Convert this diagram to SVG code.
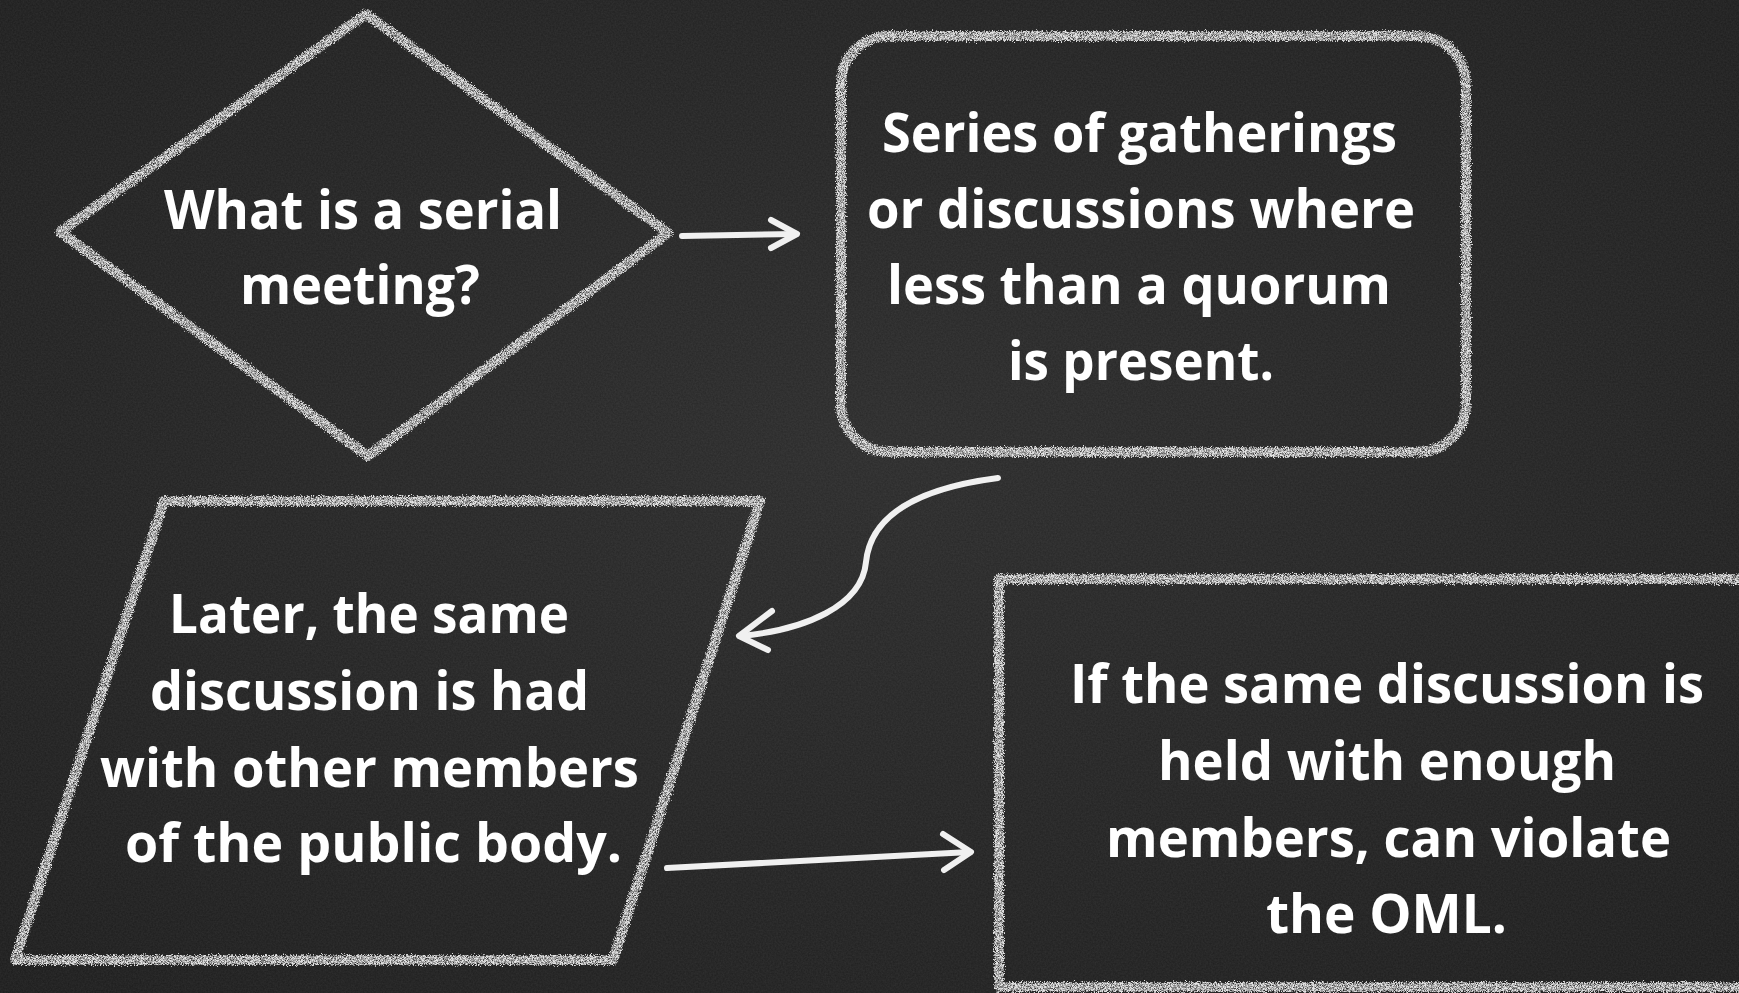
<svg xmlns="http://www.w3.org/2000/svg" width="1739" height="993" viewBox="0 0 1739 993">
<defs>
<radialGradient id="bg" cx="50%" cy="45%" r="75%">
<stop offset="0" stop-color="#2a2a2a"/>
<stop offset="1" stop-color="#1b1b1b"/>
</radialGradient>
<filter id="grain" x="0" y="0" width="100%" height="100%">
<feTurbulence type="fractalNoise" baseFrequency="0.6" numOctaves="2" seed="3" result="n"/>
<feColorMatrix in="n" type="matrix" values="0 0 0 0 1  0 0 0 0 1  0 0 0 0 1  0 0 0 0.08 0"/>
</filter>
<filter id="chalk" x="-5%" y="-5%" width="110%" height="110%">
<feTurbulence type="fractalNoise" baseFrequency="0.9" numOctaves="2" seed="7" result="n"/>
<feDisplacementMap in="SourceGraphic" in2="n" scale="7" xChannelSelector="R" yChannelSelector="G" result="d"/>
<feTurbulence type="fractalNoise" baseFrequency="1.4" numOctaves="1" seed="11" result="n2"/>
<feColorMatrix in="n2" type="matrix" values="0 0 0 0 0  0 0 0 0 0  0 0 0 0 0  0 0 0 -2.6 2.0" result="m"/>
<feComposite in="d" in2="m" operator="in"/>
</filter>
<style>
.chalk{fill:none;stroke:#e4e4e4;stroke-width:10;stroke-linejoin:round;filter:url(#chalk)}
.conn{fill:none;stroke:#f0f0f0;stroke-width:6;stroke-linecap:round;stroke-linejoin:round}
.t{font-family:"Open Sans","Liberation Sans",sans-serif;font-weight:700;font-size:54px;fill:#ffffff}
</style>
</defs>
<rect width="1739" height="993" fill="url(#bg)"/>
<rect width="1739" height="993" filter="url(#grain)"/>

<g id="node-question">
<polygon class="chalk" points="366,14 668,233 368,456 60,232"/>
<text class="t" x="164" y="229" textLength="398" lengthAdjust="spacingAndGlyphs">What is a serial</text>
<text class="t" x="240" y="304" textLength="240" lengthAdjust="spacingAndGlyphs">meeting?</text>
</g>

<g id="node-definition">
<rect class="chalk" x="841" y="36" width="625" height="416" rx="48" ry="48"/>
<text class="t" x="882" y="152" textLength="515" lengthAdjust="spacingAndGlyphs">Series of gatherings</text>
<text class="t" x="867" y="228" textLength="548" lengthAdjust="spacingAndGlyphs">or discussions where</text>
<text class="t" x="887" y="304" textLength="504" lengthAdjust="spacingAndGlyphs">less than a quorum</text>
<text class="t" x="1008" y="380" textLength="266" lengthAdjust="spacingAndGlyphs">is present.</text>
</g>

<g id="node-later">
<polygon class="chalk" points="164,501 760,501 613,960 15,960"/>
<text class="t" x="169" y="633" textLength="400" lengthAdjust="spacingAndGlyphs">Later, the same</text>
<text class="t" x="150" y="710" textLength="439" lengthAdjust="spacingAndGlyphs">discussion is had</text>
<text class="t" x="100" y="787" textLength="539" lengthAdjust="spacingAndGlyphs">with other members</text>
<text class="t" x="125" y="862" textLength="497" lengthAdjust="spacingAndGlyphs">of the public body.</text>
</g>

<g id="node-violation">
<path class="chalk" d="M1745 579 L999 579 L999 987 L1745 987"/>
<text class="t" x="1070" y="703" textLength="634" lengthAdjust="spacingAndGlyphs">If the same discussion is</text>
<text class="t" x="1158" y="780" textLength="458" lengthAdjust="spacingAndGlyphs">held with enough</text>
<text class="t" x="1106" y="857" textLength="565" lengthAdjust="spacingAndGlyphs">members, can violate</text>
<text class="t" x="1266" y="933" textLength="241" lengthAdjust="spacingAndGlyphs">the OML.</text>
</g>

<g id="connectors">
<path class="conn" d="M682 236 L796 234"/>
<path class="conn" d="M771 220 L797 234 L771 248"/>
<path class="conn" d="M998 478 C905 490 870 522 866 562 C862 606 805 630 740 636"/>
<path class="conn" d="M772 611 L739 636 L768 650"/>
<path class="conn" d="M667 868 L970 852"/>
<path class="conn" d="M943 834 L971 852 L944 870"/>
</g>
</svg>
